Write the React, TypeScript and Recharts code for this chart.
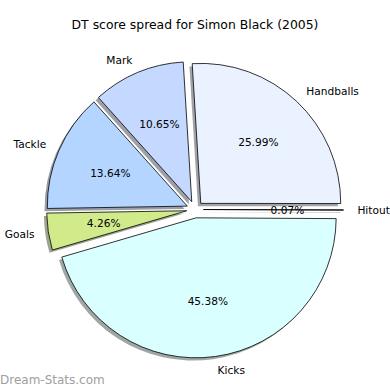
import React from "react";
import { PieChart, Pie, Sector } from "recharts";

const CATEGORIES = ["Handballs", "Hitout", "Kicks", "Goals", "Tackle", "Mark"];
const PERCENTS = [25.99, 0.07, 45.38, 4.26, 13.64, 10.65];
const COLORS = ["#eaf1ff", "#e0e0ff", "#d9ffff", "#d1eb8a", "#b3d5ff", "#c5d8ff"];

const RADIAN = Math.PI / 180;
const CX = 195;
const CY = 209.5;
const R = 140;
const EXPLODE = 0.06 * R;
const SHADOW = 2.8;
const FONT = "'DejaVu Sans', Verdana, sans-serif";

const data = CATEGORIES.map((name, i) => ({
  name,
  value: PERCENTS[i],
  fill: COLORS[i],
}));

// matplotlib style shadow: 0.3 * face colour at half alpha
function shadowColor(hex: string) {
  const n = parseInt(hex.slice(1), 16);
  const r = Math.round(((n >> 16) & 255) * 0.3);
  const g = Math.round(((n >> 8) & 255) * 0.3);
  const b = Math.round((n & 255) * 0.3);
  return `rgb(${r},${g},${b})`;
}

function offset(mid: number, d: number) {
  return { dx: d * Math.cos(-mid * RADIAN), dy: d * Math.sin(-mid * RADIAN) };
}

const ShadowShape = (props: any) => {
  const { cx, cy, outerRadius, startAngle, endAngle, midAngle, fill } = props;
  const { dx, dy } = offset(midAngle, EXPLODE);
  return (
    <Sector
      cx={cx + dx - SHADOW}
      cy={cy + dy + SHADOW}
      innerRadius={0}
      outerRadius={outerRadius}
      startAngle={startAngle}
      endAngle={endAngle}
      fill={shadowColor(fill)}
      fillOpacity={0.5}
      stroke="none"
    />
  );
};

const SliceShape = (props: any) => {
  const { cx, cy, outerRadius, startAngle, endAngle, midAngle, fill } = props;
  const { dx, dy } = offset(midAngle, EXPLODE);
  return (
    <Sector
      cx={cx + dx}
      cy={cy + dy}
      innerRadius={0}
      outerRadius={outerRadius}
      startAngle={startAngle}
      endAngle={endAngle}
      fill={fill}
      stroke="#000"
      strokeWidth={0.8}
    />
  );
};

const renderLabel = (props: any) => {
  const { cx, cy, midAngle, outerRadius, name, value } = props;
  const { dx, dy } = offset(midAngle, EXPLODE);
  const ex = cx + dx;
  const ey = cy + dy;
  const cos = Math.cos(-midAngle * RADIAN);
  const sin = Math.sin(-midAngle * RADIAN);
  const lx = ex + outerRadius * 1.1 * cos;
  const ly = ey + outerRadius * 1.1 * sin;
  const px = ex + outerRadius * 0.6 * cos;
  const py = ey + outerRadius * 0.6 * sin;
  return (
    <g>
      <text
        x={lx}
        y={ly}
        textAnchor={lx > ex ? "start" : "end"}
        dominantBaseline="central"
        fontFamily={FONT}
        fontSize={10.6}
        fill="#000"
      >
        {name}
      </text>
      <text
        x={px}
        y={py}
        textAnchor="middle"
        dominantBaseline="central"
        fontFamily={FONT}
        fontSize={10.6}
        fill="#000"
      >
        {`${Number(value).toFixed(2)}%`}
      </text>
    </g>
  );
};

export default function App() {
  return (
    <div
      style={{
        position: "absolute",
        left: 0,
        top: 0,
        width: 390,
        height: 390,
        background: "#fff",
        overflow: "hidden",
      }}
    >
      <div
        style={{
          position: "absolute",
          top: 17,
          left: 0,
          width: 390,
          textAlign: "center",
          fontFamily: FONT,
          fontSize: 12.4,
          lineHeight: "16px",
          color: "#000",
        }}
      >
        DT score spread for Simon Black (2005)
      </div>
      <PieChart
        width={390}
        height={390}
        margin={{ top: 0, right: 0, bottom: 0, left: 0 }}
        style={{ position: "absolute", left: 0, top: 0 }}
      >
        <Pie
          data={data}
          dataKey="value"
          nameKey="name"
          cx={CX}
          cy={CY}
          outerRadius={R}
          startAngle={93.5}
          endAngle={-266.5}
          stroke="none"
          shape={ShadowShape}
          inactiveShape={ShadowShape}
          isAnimationActive={false}
        />
        <Pie
          data={data}
          dataKey="value"
          nameKey="name"
          cx={CX}
          cy={CY}
          outerRadius={R}
          startAngle={93.5}
          endAngle={-266.5}
          stroke="#000"
          shape={SliceShape}
          inactiveShape={SliceShape}
          label={renderLabel}
          labelLine={false}
          isAnimationActive={false}
        />
      </PieChart>
      <div
        style={{
          position: "absolute",
          left: 0,
          top: 372,
          fontFamily: FONT,
          fontSize: 12,
          lineHeight: "16px",
          color: "#a0a0a0",
        }}
      >
        Dream-Stats.com
      </div>
    </div>
  );
}
